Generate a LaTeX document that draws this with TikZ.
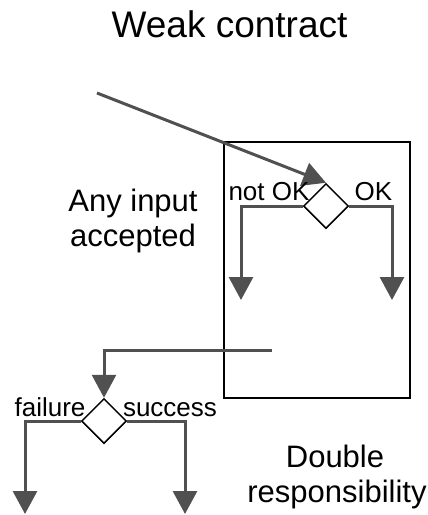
\documentclass[tikz,border=0pt]{standalone}
\usepackage{fontspec}
\setmainfont{Liberation Sans}
\usetikzlibrary{shapes.geometric,arrows.meta}
\tikzset{
  flow/.style={draw=flowgray, line width=3pt, -{Triangle[length=23pt,width=24pt]}},
  decision/.style={diamond, draw=black, line width=1.5pt, fill=white, minimum width=45pt, minimum height=45pt, inner sep=0pt},
  frame/.style={draw=black, line width=1.5pt, minimum width=186pt, minimum height=256pt, inner sep=0pt},
  titletext/.style={anchor=base, inner sep=0pt, font=\fontsize{37}{44}\selectfont},
  sidetext/.style={anchor=base, inner sep=0pt, font=\fontsize{31}{37}\selectfont},
  branchtext/.style={anchor=base, inner sep=0pt, font=\fontsize{26}{31}\selectfont},
}
\definecolor{flowgray}{HTML}{505050}
\begin{document}
\begin{tikzpicture}[x=1pt,y=-1pt]
\useasboundingbox (0,0) rectangle (428,515);
% title
\node[titletext] (title) at (229.5,37.7) {Weak contract};
% component box
\node[frame] (box) at (317,270) {};
% decisions
\node[decision] (d1) at (326,206) {};
\node[decision] (d2) at (104,421) {};
% coordinates
\coordinate (in) at (97,93);
\coordinate (nokend) at (241,300);
\coordinate (okend) at (392,300);
\coordinate (ret) at (272,350);
\coordinate (failend) at (25,514);
\coordinate (succend) at (185,514);
% connectors
\draw[flow] (in) -- (d1.north);
\draw[flow] (d1.west) -| (nokend);
\draw[flow] (d1.east) -| (okend);
\draw[flow] (ret) -| (d2.north);
\draw[flow] (d2.west) -| (failend);
\draw[flow] (d2.east) -| (succend);
% labels
\node[branchtext] (notok) at (269,200.7) {not OK};
\node[branchtext] (ok) at (373.5,200.7) {OK};
\node[branchtext] (fail) at (50,416.7) {failure};
\node[branchtext] (succ) at (170,416.7) {success};
\node[sidetext] (any1) at (133,211.7) {Any input};
\node[sidetext] (any2) at (133,246.7) {accepted};
\node[sidetext] (dbl1) at (335,467) {Double};
\node[sidetext] (dbl2) at (337,502) {responsibility};
\end{tikzpicture}
\end{document}
